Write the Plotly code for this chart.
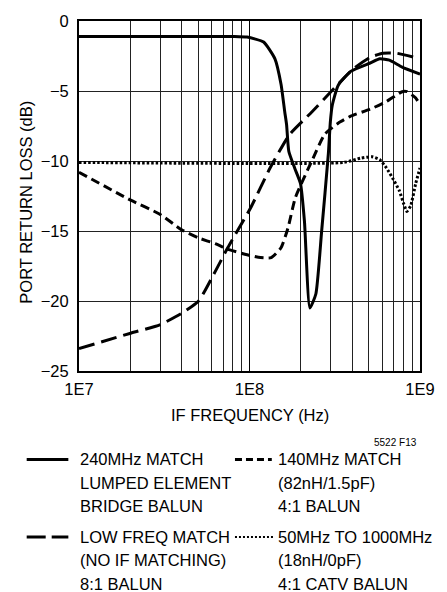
import plotly.graph_objects as go

# ---- data ----
solid_f = [1e7, 8.16e7, 9.68e7, 1.21e8, 1.41e8, 1.53e8, 1.61e8, 1.65e8, 1.70e8, 1.84e8, 1.99e8,
           2.10e8, 2.26e8, 2.45e8, 2.65e8, 2.90e8, 2.98e8, 3.06e8, 3.31e8, 3.92e8, 5.10e8,
           5.81e8, 6.62e8, 7.86e8, 1e9]
solid_db = [-1.1, -1.1, -1.15, -1.5, -2.7, -4.5, -6.5, -7.4, -9.3, -10.5, -11.6,
            -14.3, -20.5, -19.5, -15.0, -9.5, -7.2, -6.0, -4.6, -3.6, -3.0,
            -2.7, -2.8, -3.3, -3.8]

longdash_f = [1e7, 2.01e7, 2.98e7, 3.98e7, 5.03e7, 6.29e7, 7.45e7, 1.02e8, 1.32e8, 1.72e8,
              2.32e8, 3.14e8, 4.08e8, 5.10e8, 6.05e8, 7.27e8, 1e9]
longdash_db = [-23.4, -22.3, -21.7, -20.9, -20.0, -17.9, -16.2, -13.3, -10.5, -8.1,
               -6.5, -4.8, -3.4, -2.6, -2.3, -2.3, -2.7]

shortdash_f = [1e7, 2.01e7, 2.98e7, 3.98e7, 5.03e7, 6.29e7, 7.45e7, 9.68e7, 1.16e8, 1.34e8,
               1.53e8, 1.68e8, 1.86e8, 2.32e8, 2.76e8, 3.31e8, 3.92e8, 5.10e8, 6.36e8,
               7.86e8, 8.4e8, 9.44e8, 1e9]
shortdash_db = [-10.8, -12.8, -13.8, -14.9, -15.5, -15.9, -16.3, -16.7, -16.9, -16.9,
                -16.2, -14.8, -12.6, -10.0, -8.1, -7.3, -6.8, -6.3, -5.75,
                -5.05, -5.05, -5.5, -6.0]

dotted_f = [1e7, 3.58e8, 4.47e8, 5.24e8, 5.81e8, 6.36e8, 6.89e8, 7.55e8, 8.05e8, 8.37e8,
            8.82e8, 9.44e8, 1e9]
dotted_db = [-10.1, -10.1, -9.8, -9.7, -9.9, -10.5, -11.2, -12.1, -13.1, -13.6,
             -13.2, -11.6, -10.5]

x_tickvals = [1e7, 1e8, 1e9]
x_ticktext = ["1E7", "1E8", "1E9"]
y_tickvals = [0, -5, -10, -15, -20, -25]
y_ticktext = ["0", "\u22125", "\u221210", "\u221215", "\u221220", "\u221225"]

legend_solid = ["240MHz MATCH", "LUMPED ELEMENT", "BRIDGE BALUN"]
legend_short = ["140MHz MATCH", "(82nH/1.5pF)", "4:1 BALUN"]
legend_long = ["LOW FREQ MATCH", "(NO IF MATCHING)", "8:1 BALUN"]
legend_dot = ["50MHz TO 1000MHz", "(18nH/0pF)", "4:1 CATV BALUN"]

FONT = "Liberation Sans, Arial, sans-serif"
FS = 16.5
W, H = 447, 592
ML, MR, MT, MB = 79, 16, 19, 221
PW = W - ML - MR
PH = H - MT - MB

def px(x):
    return (x - ML) / PW

def py(y):
    return (H - MB - y) / PH

fig = go.Figure()
styles = [
    (solid_f, solid_db, "solid"),
    (longdash_f, longdash_db, "16px,7px"),
    (shortdash_f, shortdash_db, "9px,5px"),
    (dotted_f, dotted_db, "2.5px,2px"),
]
for f, d, dash in styles:
    fig.add_trace(go.Scatter(x=f, y=d, mode="lines",
                             line=dict(color="black", width=3, dash=dash,
                                       shape="spline", smoothing=0.5),
                             showlegend=False, hoverinfo="skip"))

fig.update_layout(
    width=W, height=H,
    margin=dict(l=ML, r=MR, t=MT, b=MB, pad=0),
    paper_bgcolor="white", plot_bgcolor="white",
    font=dict(family=FONT, size=FS, color="black"),
)
fig.update_xaxes(
    type="log", range=[7, 9], tickvals=x_tickvals, ticktext=x_ticktext,
    showgrid=True, gridcolor="black", gridwidth=1,
    minor=dict(dtick="D1", showgrid=True, gridcolor="#222", gridwidth=1, ticks=""),
    showline=True, linecolor="black", linewidth=2, mirror=True,
    ticks="", ticklabelstandoff=2, zeroline=False,
)
fig.update_yaxes(
    range=[-25, 0], tickvals=y_tickvals, ticktext=y_ticktext,
    showgrid=True, gridcolor="#222", gridwidth=1,
    showline=True, linecolor="black", linewidth=2, mirror=True,
    ticks="", ticklabelstandoff=5, zeroline=False,
)

ann = []
ann.append(dict(text="IF FREQUENCY (Hz)", x=px(256), y=py(415), xref="paper", yref="paper",
                showarrow=False, xanchor="center", yanchor="middle"))
ann.append(dict(text="PORT RETURN LOSS (dB)", x=px(24), y=py(201), xref="paper", yref="paper",
                showarrow=False, xanchor="center", yanchor="middle", textangle=-90))
ann.append(dict(text="5522 F13", x=px(430), y=py(443), xref="paper", yref="paper",
                showarrow=False, xanchor="right", yanchor="middle",
                font=dict(size=10)))
row_y = [[460, 484, 507], [538, 561, 585]]
for lines, x0, rows in [(legend_solid, 78, row_y[0]), (legend_long, 78, row_y[1]),
                        (legend_short, 282, row_y[0]), (legend_dot, 282, row_y[1])]:
    for txt, yy in zip(lines, rows):
        ann.append(dict(text=txt, x=px(x0), y=py(yy), xref="paper", yref="paper",
                        showarrow=False, xanchor="left", yanchor="middle", align="left"))
fig.update_layout(annotations=ann)

for x0, x1, y, dash, w in [(25, 68, 460, "solid", 3), (25, 68, 538, "19px,6px", 3),
                           (240, 278, 460, "7px,4px", 3), (240, 280, 538, "2px,2px", 2)]:
    fig.add_shape(type="line", xref="paper", yref="paper",
                  x0=px(x0), x1=px(x1), y0=py(y), y1=py(y),
                  line=dict(color="black", width=w, dash=dash))

fig.write_html("out.html", config={"displayModeBar": False},
               post_script="document.body.style.margin='0px';document.body.style.overflow='hidden';")
